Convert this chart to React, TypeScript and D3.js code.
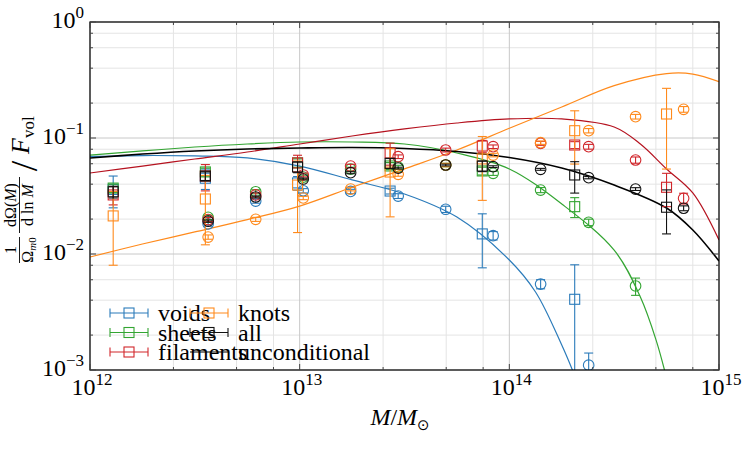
import { useEffect, useRef } from "react";
import * as d3 from "d3";

// bin centres in solar masses: wide bins (squares) and narrow bins (circles)
const squareMass = [1.29e12, 3.55e12, 9.77e12, 2.7e13, 7.43e13, 2.05e14, 5.62e14];
const circleMass = [3.66e12, 6.17e12, 1.04e13, 1.75e13, 2.95e13, 4.97e13, 8.37e13, 1.41e14, 2.39e14, 4.0e14, 6.78e14];

// square markers (value, 1-sigma), null = empty bin
const voidsSq = [0.036, 0.045, 0.041, 0.0349, 0.0149, 0.00407, null];
const voidsSqErr = [0.011, 0.009, 0.0055, 0.002, 0.0073, 0.004, null];
const sheetsSq = [0.037, 0.051, 0.061, 0.0574, 0.052, 0.0256, null];
const sheetsSqErr = [0.003, 0.004, 0.005, 0.004, 0.004, 0.005, null];
const filamentsSq = [0.0323, 0.047, 0.061, 0.0743, 0.0853, 0.087, 0.0376];
const filamentsSqErr = [0.0058, 0.012, 0.01, 0.016, 0.01, 0.006, 0.012];
const knotsSq = [0.0213, 0.0298, 0.0393, 0.0509, 0.066, 0.1156, 0.161];
const knotsSqErr = [0.0133, 0.0178, 0.024, 0.03, 0.037, 0.056, 0.107];
const allSq = [0.0344, 0.047, 0.0562, 0.0605, 0.0573, 0.048, 0.0253];
const allSqErr = [0.004, 0.004, 0.006, 0.006, 0.006, 0.0145, 0.0104];

// circle markers
const voidsCi = [0.01815, 0.0286, 0.0351, 0.0346, 0.0316, 0.0243, 0.0144, 0.00551, 0.0011, null, null];
const voidsCiErr = [0.0008, 0.0012, 0.0015, 0.0015, 0.0015, 0.0015, 0.0012, 0.0005, 0.0003, null, null];
const sheetsCi = [0.0207, 0.0344, 0.046, 0.054, 0.0562, 0.0585, 0.0496, 0.0356, 0.01876, 0.0053, null];
const sheetsCiErr = [0.0009, 0.0014, 0.0018, 0.002, 0.002, 0.002, 0.002, 0.0018, 0.0012, 0.0009, null];
const filamentsCi = [0.0198, 0.0323, 0.048, 0.0573, 0.069, 0.0788, 0.0841, 0.09, 0.0841, 0.0646, 0.0302];
const filamentsCiErr = [0.0008, 0.0013, 0.0018, 0.002, 0.0025, 0.003, 0.003, 0.0035, 0.004, 0.004, 0.0032];
const knotsCi = [0.014, 0.0199, 0.0304, 0.0363, 0.0486, 0.0585, 0.0713, 0.0911, 0.1156, 0.1527, 0.1767];
const knotsCiErr = [0.0006, 0.0008, 0.001, 0.0013, 0.0018, 0.002, 0.0025, 0.003, 0.005, 0.007, 0.01];
const allCi = [0.0192, 0.031, 0.0443, 0.0502, 0.055, 0.0585, 0.0566, 0.0537, 0.0455, 0.0363, 0.0248];
const allCiErr = [0.0004, 0.0006, 0.0008, 0.001, 0.001, 0.001, 0.001, 0.001, 0.001, 0.001, 0.0012];

// model curves: log10(M) and value
const voidsCurveLogM = [12, 12.25, 12.5, 12.75, 13, 13.25, 13.5, 13.75, 14, 14.125, 14.25, 14.31];
const voidsCurve = [0.0693, 0.0706, 0.07, 0.0673, 0.0573, 0.0435, 0.0329, 0.0208, 0.00887, 0.0047, 0.00164, 0.00091];
const sheetsCurveLogM = [12, 12.25, 12.5, 12.75, 13, 13.25, 13.5, 13.75, 14, 14.25, 14.5, 14.625, 14.7, 14.75];
const sheetsCurve = [0.0713, 0.0773, 0.0836, 0.0888, 0.0924, 0.0924, 0.0888, 0.0743, 0.0541, 0.027, 0.0108, 0.00426, 0.00181, 0.00085];
const filamentsCurveLogM = [12, 12.25, 12.5, 12.75, 13, 13.25, 13.5, 13.75, 14, 14.25, 14.5, 14.625, 14.75, 14.875, 15];
const filamentsCurve = [0.0499, 0.0573, 0.0659, 0.0757, 0.0888, 0.104, 0.1197, 0.1347, 0.146, 0.146, 0.1244, 0.0888, 0.0541, 0.0336, 0.0132];
const knotsCurveLogM = [12, 12.25, 12.5, 12.75, 13, 13.25, 13.5, 13.75, 14, 14.25, 14.5, 14.75, 14.875, 15];
const knotsCurve = [0.00942, 0.0122, 0.0155, 0.0198, 0.0259, 0.0376, 0.0542, 0.0788, 0.1213, 0.185, 0.2825, 0.359, 0.356, 0.306];
const uncondCurveLogM = [12, 12.25, 12.5, 12.75, 13, 13.25, 13.5, 13.75, 14, 14.25, 14.5, 14.75, 14.875, 15];
const uncondCurve = [0.0673, 0.0727, 0.0773, 0.0804, 0.082, 0.0828, 0.0812, 0.0765, 0.0679, 0.0551, 0.0393, 0.0249, 0.0161, 0.0087];

const xTickExp = ["12", "13", "14", "15"];
const yTickExp = ["0", "\u22121", "\u22122", "\u22123"];
const legendLabels = ["voids", "sheets", "filaments", "knots", "all", "unconditional"];

const FONT = "'Liberation Serif', 'DejaVu Serif', serif";

type Series = {
  color: string;
  sq: (number | null)[];
  sqErr: (number | null)[];
  ci: (number | null)[];
  ciErr: (number | null)[];
};

const series: Series[] = [
  { color: "#2b7bba", sq: voidsSq, sqErr: voidsSqErr, ci: voidsCi, ciErr: voidsCiErr },
  { color: "#33a532", sq: sheetsSq, sqErr: sheetsSqErr, ci: sheetsCi, ciErr: sheetsCiErr },
  { color: "#d1262b", sq: filamentsSq, sqErr: filamentsSqErr, ci: filamentsCi, ciErr: filamentsCiErr },
  { color: "#ff8a1c", sq: knotsSq, sqErr: knotsSqErr, ci: knotsCi, ciErr: knotsCiErr },
  { color: "#111111", sq: allSq, sqErr: allSqErr, ci: allCi, ciErr: allCiErr },
];

const curves = [
  { logM: voidsCurveLogM, v: voidsCurve, color: "#2b7bba", w: 1.2 },
  { logM: sheetsCurveLogM, v: sheetsCurve, color: "#33a532", w: 1.2 },
  { logM: filamentsCurveLogM, v: filamentsCurve, color: "#b5121f", w: 1.2 },
  { logM: knotsCurveLogM, v: knotsCurve, color: "#ff8a1c", w: 1.2 },
  { logM: uncondCurveLogM, v: uncondCurve, color: "#000000", w: 1.6 },
];

const W = 750;
const H = 450;
const L = 90;
const R = 719;
const T = 22;
const B = 370;

const App: React.FC = () => {
  const svgRef = useRef<SVGSVGElement>(null);

  useEffect(() => {
    const svg = d3.select(svgRef.current);
    svg.selectAll("*").remove();

    const x = d3.scaleLog().domain([1e12, 1e15]).range([L, R]);
    const y = d3.scaleLog().domain([1e-3, 1]).range([B, T]);

    svg.append("rect").attr("width", W).attr("height", H).attr("fill", "white");

    svg.append("clipPath").attr("id", "plotclip")
      .append("rect").attr("x", L).attr("y", T).attr("width", R - L).attr("height", B - T);

    // grid
    const xMajor = [1e12, 1e13, 1e14, 1e15];
    const yMajor = [1e-3, 1e-2, 1e-1, 1];
    const xMinor = [12, 13, 14].flatMap((n) => [2.5, 5, 7.5].map((m) => m * 10 ** n));
    const yMinor = [-3, -2, -1].flatMap((n) => [2, 4, 6, 8].map((m) => m * 10 ** n));

    const grid = svg.append("g");
    grid.selectAll(".xmin").data(xMinor).enter().append("line")
      .attr("x1", (d) => x(d)).attr("x2", (d) => x(d)).attr("y1", T).attr("y2", B)
      .attr("stroke", "#e4e4e4").attr("stroke-width", 1);
    grid.selectAll(".ymin").data(yMinor).enter().append("line")
      .attr("y1", (d) => y(d)).attr("y2", (d) => y(d)).attr("x1", L).attr("x2", R)
      .attr("stroke", "#e4e4e4").attr("stroke-width", 1);
    grid.selectAll(".xmaj").data(xMajor).enter().append("line")
      .attr("x1", (d) => x(d)).attr("x2", (d) => x(d)).attr("y1", T).attr("y2", B)
      .attr("stroke", "#c8c8c8").attr("stroke-width", 1);
    grid.selectAll(".ymaj").data(yMajor).enter().append("line")
      .attr("y1", (d) => y(d)).attr("y2", (d) => y(d)).attr("x1", L).attr("x2", R)
      .attr("stroke", "#c8c8c8").attr("stroke-width", 1);

    const plot = svg.append("g").attr("clip-path", "url(#plotclip)");

    // model curves
    const line = d3.line<[number, number]>()
      .x((d) => x(10 ** d[0]))
      .y((d) => y(d[1]))
      .curve(d3.curveCatmullRom.alpha(0.5));
    curves.forEach((c) => {
      const pts = c.logM.map((m, i) => [m, c.v[i]] as [number, number]);
      plot.append("path").attr("d", line(pts)).attr("fill", "none")
        .attr("stroke", c.color).attr("stroke-width", c.w);
    });

    // error bars with markers
    const cap = 4.5;
    const drawPoints = (g: any, mass: number[], vals: (number | null)[], errs: (number | null)[], color: string, shape: string) => {
      mass.forEach((m, i) => {
        const v = vals[i];
        if (v == null) return;
        const e = errs[i] ?? 0;
        const px = x(m);
        const lo = v - e > 0 ? y(v - e) : B + 20;
        const hi = y(v + e);
        g.append("line").attr("x1", px).attr("x2", px).attr("y1", lo).attr("y2", hi)
          .attr("stroke", color).attr("stroke-width", 1.1);
        [lo, hi].forEach((yy) => {
          g.append("line").attr("x1", px - cap).attr("x2", px + cap).attr("y1", yy).attr("y2", yy)
            .attr("stroke", color).attr("stroke-width", 1.1);
        });
        if (shape === "square") {
          g.append("rect").attr("x", px - 5).attr("y", y(v) - 5).attr("width", 10).attr("height", 10)
            .attr("fill", "none").attr("stroke", color).attr("stroke-width", 1.1);
        } else {
          g.append("circle").attr("cx", px).attr("cy", y(v)).attr("r", 5.3)
            .attr("fill", "none").attr("stroke", color).attr("stroke-width", 1.1);
        }
      });
    };
    series.forEach((s) => {
      drawPoints(plot, squareMass, s.sq, s.sqErr, s.color, "square");
      drawPoints(plot, circleMass, s.ci, s.ciErr, s.color, "circle");
    });

    // frame and ticks
    svg.append("rect").attr("x", L).attr("y", T).attr("width", R - L).attr("height", B - T)
      .attr("fill", "none").attr("stroke", "#000").attr("stroke-width", 1.2);
    const ticks = svg.append("g").attr("stroke", "#444").attr("stroke-width", 1);
    const tickSets: [number[], number][] = [[xMinor, 3], [xMajor, 6]];
    tickSets.forEach(([vals, len]) => vals.forEach((v) => {
      ticks.append("line").attr("x1", x(v)).attr("x2", x(v)).attr("y1", B).attr("y2", B - len);
      ticks.append("line").attr("x1", x(v)).attr("x2", x(v)).attr("y1", T).attr("y2", T + len);
    }));
    const yTickSets: [number[], number][] = [[yMinor, 3], [yMajor, 6]];
    yTickSets.forEach(([vals, len]) => vals.forEach((v) => {
      ticks.append("line").attr("y1", y(v)).attr("y2", y(v)).attr("x1", L).attr("x2", L + len);
      ticks.append("line").attr("y1", y(v)).attr("y2", y(v)).attr("x1", R).attr("x2", R - len);
    }));

    // tick labels
    xMajor.forEach((v, i) => {
      const t = svg.append("text").attr("x", x(v) + 2).attr("y", 395)
        .attr("text-anchor", "middle").attr("font-family", FONT).attr("font-size", 24);
      t.append("tspan").text("10");
      t.append("tspan").attr("dy", -10).attr("font-size", 17).text(xTickExp[i]);
    });
    yMajor.slice().reverse().forEach((v, i) => {
      const t = svg.append("text").attr("x", 84).attr("y", y(v) + 6)
        .attr("text-anchor", "end").attr("font-family", FONT).attr("font-size", 24);
      t.append("tspan").text("10");
      t.append("tspan").attr("dy", -10).attr("font-size", 17).text(yTickExp[i]);
    });

    // x label
    const xl = svg.append("text").attr("x", 400).attr("y", 425).attr("text-anchor", "middle")
      .attr("font-family", FONT).attr("font-size", 24);
    xl.append("tspan").attr("font-style", "italic").text("M");
    xl.append("tspan").text("/");
    xl.append("tspan").attr("font-style", "italic").text("M");
    xl.append("tspan").attr("dy", 5).attr("font-size", 15).attr("font-family", "'DejaVu Sans', sans-serif").text("\u2299");

    // y label, typeset along the rotated axis
    const yl = svg.append("g").attr("transform", "translate(29,190) rotate(-90)")
      .attr("font-family", FONT);
    yl.append("text").attr("x", -60).attr("y", -13).attr("text-anchor", "middle").attr("font-size", 16).text("1");
    yl.append("line").attr("x1", -73).attr("x2", -47).attr("y1", -9.5).attr("y2", -9.5).attr("stroke", "#000").attr("stroke-width", 0.9);
    const om = yl.append("text").attr("x", -60).attr("y", 3.5).attr("text-anchor", "middle").attr("font-size", 16);
    om.append("tspan").text("\u03A9");
    om.append("tspan").attr("dy", 3).attr("font-size", 11).attr("font-style", "italic").text("m");
    om.append("tspan").attr("font-size", 11).text("0");
    const num = yl.append("text").attr("x", -15).attr("y", -13).attr("text-anchor", "middle").attr("font-size", 16);
    num.append("tspan").text("d\u03A9(");
    num.append("tspan").attr("font-style", "italic").text("M");
    num.append("tspan").text(")");
    yl.append("line").attr("x1", -43).attr("x2", 13).attr("y1", -9.5).attr("y2", -9.5).attr("stroke", "#000").attr("stroke-width", 0.9);
    const den = yl.append("text").attr("x", -15).attr("y", 3.5).attr("text-anchor", "middle").attr("font-size", 16);
    den.append("tspan").text("d ln ");
    den.append("tspan").attr("font-style", "italic").text("M");
    yl.append("text").attr("x", 24).attr("y", 8).attr("text-anchor", "middle").attr("font-size", 38).text("/");
    const fv = yl.append("text").attr("x", 36).attr("y", 0).attr("font-size", 26);
    fv.append("tspan").attr("font-style", "italic").text("F");
    fv.append("tspan").attr("dy", 5).attr("font-size", 17).text("vol");

    // legend
    const rows = [313, 332.5, 352];
    const legend = svg.append("g");
    legendLabels.forEach((label, i) => {
      const col = Math.floor(i / 3);
      const ry = rows[i % 3];
      const x0 = col === 0 ? 110 : 190;
      const x1 = x0 + 38;
      const cx = (x0 + x1) / 2;
      const color = i < 5 ? series[i].color : "#000";
      legend.append("line").attr("x1", x0).attr("x2", x1).attr("y1", ry).attr("y2", ry)
        .attr("stroke", color).attr("stroke-width", 1.1);
      if (i < 5) {
        [x0, x1].forEach((xx) => legend.append("line").attr("x1", xx).attr("x2", xx)
          .attr("y1", ry - 4.5).attr("y2", ry + 4.5).attr("stroke", color).attr("stroke-width", 1.1));
        legend.append("rect").attr("x", cx - 5).attr("y", ry - 5).attr("width", 10).attr("height", 10)
          .attr("fill", "none").attr("stroke", color).attr("stroke-width", 1.1);
      }
      legend.append("text").attr("x", col === 0 ? 158 : 238).attr("y", ry + 8)
        .attr("font-family", FONT).attr("font-size", 24).text(label);
    });
  }, []);

  return (
    <svg ref={svgRef} width={W} height={H}
      style={{ position: "absolute", left: 0, top: 0, display: "block" }} />
  );
};

export default App;
